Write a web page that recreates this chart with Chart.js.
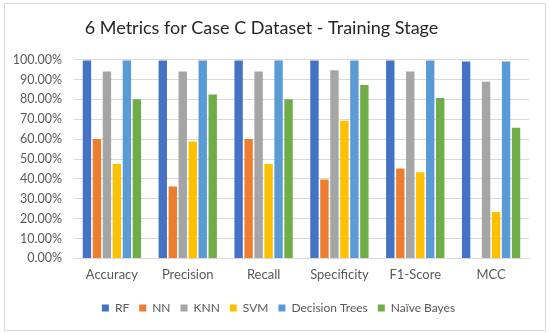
<!DOCTYPE html>
<html>
<head>
<meta charset="utf-8">
<script src="https://cdn.jsdelivr.net/npm/chart.js@4"></script>
<style>
  html, body { margin: 0; padding: 0; background: #fff; }
  #wrap { position: relative; width: 550px; height: 333px; }
  #frame { position: absolute; left: 4px; top: 3px; width: 540px; height: 326px; border: 1px solid #d9d9d9; pointer-events: none; }
</style>
</head>
<body>
<div id="wrap">
  <canvas id="myChart" width="550" height="333"></canvas>
  <div id="frame"></div>
</div>
<script>
var categories = ['Accuracy', 'Precision', 'Recall', 'Specificity', 'F1-Score', 'MCC'];
var seriesNames = ['RF', 'NN', 'KNN', 'SVM', 'Decision Trees', 'Naïve Bayes'];
var rf = [99.5, 99.5, 99.5, 99.5, 99.5, 99.0];
var nn = [60.0, 36.2, 60.0, 39.7, 45.2, 0];
var knn = [94.0, 94.0, 94.0, 94.7, 94.0, 88.8];
var svm = [47.5, 58.8, 47.5, 69.2, 43.3, 23.3];
var decisionTrees = [99.5, 99.5, 99.5, 99.5, 99.5, 99.0];
var naiveBayes = [80.0, 82.5, 80.0, 87.2, 80.7, 65.7];
var colors = ['#4472C4', '#ED7D31', '#A5A5A5', '#FFC000', '#5B9BD5', '#70AD47'];

var fontFamily = 'Lato, "Open Sans", sans-serif';
var ctx = document.getElementById('myChart');

var allData = [rf, nn, knn, svm, decisionTrees, naiveBayes];
var datasets = seriesNames.map(function (name, i) {
    return {
        label: name,
        data: allData[i],
        backgroundColor: colors[i],
        borderWidth: 0,
        categoryPercentage: 0.79,
        barPercentage: 0.84
    };
});

// nudge title and legend sideways like the excel original
var nudgeBoxes = {
    id: 'nudgeBoxes',
    afterLayout: function (chart) {
        chart.legend.left += 14;
        chart.legend.right += 14;
        chart.titleBlock.left -= 3;
        chart.titleBlock.right -= 3;
    }
};

var myChart = new Chart(ctx, {
    type: 'bar',
    data: {
        labels: categories,
        datasets: datasets
    },
    plugins: [nudgeBoxes],
    options: {
        responsive: false,
        animation: false,
        events: [],
        layout: {
            padding: { left: 0, right: 21, top: 0, bottom: 9 }
        },
        plugins: {
            title: {
                display: true,
                text: '6 Metrics for Case C Dataset - Training Stage',
                color: '#262626',
                font: { family: fontFamily, size: 18, weight: 'normal' },
                padding: { top: 17, bottom: 21 }
            },
            legend: {
                position: 'bottom',
                labels: {
                    boxWidth: 7,
                    boxHeight: 7,
                    color: '#595959',
                    padding: 10,
                    font: { family: fontFamily, size: 12 }
                }
            },
            tooltip: { enabled: false }
        },
        scales: {
            x: {
                grid: { display: false, drawTicks: false },
                border: { display: true, color: '#d9d9d9' },
                ticks: {
                    color: '#595959',
                    padding: 9,
                    font: { family: fontFamily, size: 13 }
                }
            },
            y: {
                min: 0,
                max: 100,
                afterFit: function (scale) { scale.width = 74; },
                grid: { color: '#d9d9d9', drawTicks: false },
                border: { display: false },
                ticks: {
                    stepSize: 10,
                    color: '#595959',
                    padding: 12,
                    font: { family: fontFamily, size: 12.5 },
                    callback: function (v) { return v.toFixed(2) + '%'; }
                }
            }
        }
    }
});
</script>
</body>
</html>
